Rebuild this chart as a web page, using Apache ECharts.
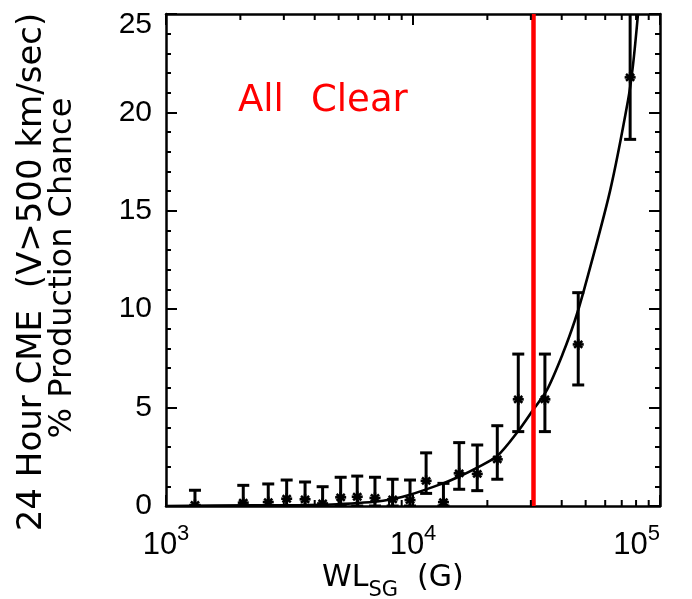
<!DOCTYPE html>
<html><head><meta charset="utf-8">
<script src="https://cdn.jsdelivr.net/npm/echarts@6/dist/echarts.min.js"></script>
<style>html,body{margin:0;padding:0;background:#fff}#c{width:692px;height:599px}</style>
</head><body><div id="c"></div>
<script>
// measured points (WL_SG in G, % chance) with error bar limits
const wl     = [1310, 2055, 2594, 3080, 3656, 4306, 5095, 5946, 7015, 8272, 9727, 11300, 13280, 15380, 18200, 21940, 26680, 34200, 46660, 75700];
const pct    = [0.05, 0.17, 0.20, 0.37, 0.34, 0.13, 0.44, 0.47, 0.41, 0.34, 0.30, 1.28, 0.20, 1.66, 1.63, 2.37, 5.42, 5.42, 8.21, 21.78];
const errHi  = [0.80, 1.05, 1.12, 1.32, 1.22, 0.98, 1.46, 1.52, 1.46, 1.36, 1.32, 2.70, 1.15, 3.22, 3.10, 4.08, 7.72, 7.72, 10.84, 25.5];
const errLo  = [0, 0, 0, 0, 0, 0, 0, 0, 0, 0, 0, 0.64, 0, 0.85, 0.78, 1.36, 3.78, 3.78, 6.15, 18.63];
// fitted curve
const fitWL  = [1000, 2190, 3490, 4920, 7570, 9640, 13220, 15400, 18200, 21950, 26620, 30610, 34870, 40490, 45290, 48800, 62750, 74210, 77740, 81460];
const fitPct = [0.0, 0.03, 0.05, 0.09, 0.27, 0.56, 1.15, 1.50, 1.95, 2.55, 3.80, 4.88, 5.9, 7.77, 9.45, 10.8, 16.0, 20.6, 22.4, 25.0];
const allClearWL = 30700;
const xMinorTicks = [2000,3000,4000,5000,6000,7000,8000,9000,20000,30000,40000,50000,60000,70000,80000,90000];
const yMin = 0, yMax = 25, yStep = 5;

const chart = echarts.init(document.getElementById('c'), null, {renderer: 'canvas'});
const numFont = 'Liberation Sans';
const axisStyle = {color: '#000', width: 2.5};
const mkX = (pos, showLabel) => ({
  type: 'log', logBase: 10, min: 1000, max: 100000, position: pos,
  axisLine: {show: true, onZero: false, lineStyle: axisStyle},
  axisTick: {show: true, inside: true, length: 11, lineStyle: {color: '#000', width: 2}},
  minorTick: {show: false},
  splitLine: {show: false},
  axisLabel: showLabel ? {
    margin: 17, color: '#000', alignMaxLabel: 'right',
    formatter: v => '{b|10}{s|' + Math.round(Math.log10(v)) + '}',
    rich: {
      b: {fontFamily: numFont, fontSize: 31, color: '#000', lineHeight: 38, verticalAlign: 'bottom'},
      s: {fontFamily: numFont, fontSize: 22, color: '#000', lineHeight: 38, verticalAlign: 'top'}
    }
  } : {show: false}
});
const mkY = (pos, showLabel) => ({
  type: 'value', min: yMin, max: yMax, interval: yStep, position: pos,
  axisLine: {show: true, onZero: false, lineStyle: axisStyle},
  axisTick: {show: true, inside: true, length: 11, lineStyle: {color: '#000', width: 2}},
  minorTick: {show: true, splitNumber: 5, length: 5, lineStyle: {color: '#000', width: 2}},
  splitLine: {show: false},
  axisLabel: showLabel ? {
    margin: 14, fontFamily: numFont, fontSize: 30, color: '#000',
    formatter: v => v === yMax ? '{t|' + v + '}' : String(v),
    rich: {t: {fontFamily: numFont, fontSize: 30, color: '#000', padding: [22, 0, 0, 0]}}
  } : {show: false}
});

const option = {
  animation: false,
  backgroundColor: '#fff',
  grid: {left: 166, right: 32, top: 14, bottom: 93, containLabel: false},
  xAxis: [mkX('bottom', true), mkX('top', false)],
  yAxis: [mkY('left', true), mkY('right', false)],
  series: [
    {
      type: 'line', xAxisIndex: 0, yAxisIndex: 0,
      data: fitWL.map((x, i) => [x, fitPct[i]]),
      showSymbol: false, smooth: 0.3, clip: true,
      lineStyle: {color: '#000', width: 2.6},
      markLine: {
        silent: true, symbol: 'none', animation: false,
        label: {show: false},
        lineStyle: {color: '#ff0000', width: 4.5, type: 'solid'},
        data: [{xAxis: allClearWL}]
      },
      z: 3
    },
    {
      type: 'custom', xAxisIndex: 0, yAxisIndex: 0, clip: true,
      data: wl.map((x, i) => [x, pct[i], errLo[i], errHi[i]]),
      renderItem: (params, api) => {
        const x = api.value(0), y = api.value(1), lo = api.value(2), hi = api.value(3);
        const pc = api.coord([x, y]), pt = api.coord([x, hi]), pb = api.coord([x, lo]);
        const st = {stroke: '#000', lineWidth: 3};
        const cw = 6, r = 5.5;
        const ch = [
          {type: 'line', shape: {x1: pc[0], y1: pt[1], x2: pc[0], y2: pb[1]}, style: st},
          {type: 'line', shape: {x1: pc[0] - cw, y1: pt[1], x2: pc[0] + cw, y2: pt[1]}, style: st},
          {type: 'line', shape: {x1: pc[0] - cw, y1: pb[1], x2: pc[0] + cw, y2: pb[1]}, style: st}
        ];
        const ast = [[0, -1], [1, 0], [0.75, -0.62], [0.75, 0.62]];
        ast.forEach(d => ch.push({type: 'line', shape: {x1: pc[0] - d[0] * r, y1: pc[1] - d[1] * r, x2: pc[0] + d[0] * r, y2: pc[1] + d[1] * r}, style: {stroke: '#000', lineWidth: 2.6}}));
        return {type: 'group', children: ch};
      },
      z: 4
    },
    {
      type: 'custom', xAxisIndex: 0, yAxisIndex: 0, clip: false,
      data: xMinorTicks.map(v => [v]),
      renderItem: (params, api) => {
        const v = api.value(0);
        const pb = api.coord([v, yMin]), pt = api.coord([v, yMax]);
        const st = {stroke: '#000', lineWidth: 2};
        return {type: 'group', children: [
          {type: 'line', shape: {x1: pb[0], y1: pb[1], x2: pb[0], y2: pb[1] - 6}, style: st},
          {type: 'line', shape: {x1: pt[0], y1: pt[1], x2: pt[0], y2: pt[1] + 6}, style: st}
        ]};
      },
      z: 5
    }
  ],
  graphic: [
    {type: 'text', left: 238, top: 83, style: {text: 'All', fontFamily: 'DejaVu Sans', fontSize: 37, fill: '#ff0000'}},
    {type: 'text', left: 311, top: 83, style: {text: 'Clear', fontFamily: 'DejaVu Sans', fontSize: 37, fill: '#ff0000'}},
    {type: 'text', x: 32, y: 272, rotation: Math.PI / 2,
      style: {text: '24 Hour CME  (V>500 km/sec)', fontFamily: 'DejaVu Sans', fontSize: 34, fill: '#000', align: 'center', verticalAlign: 'middle'}},
    {type: 'text', x: 63, y: 268, rotation: Math.PI / 2,
      style: {text: '% Production Chance', fontFamily: 'DejaVu Sans', fontSize: 32, fill: '#000', align: 'center', verticalAlign: 'middle'}},
    {type: 'text', x: 322, y: 582,
      style: {text: '{a|WL}{b|SG}{a|  (G)}', align: 'left', verticalAlign: 'middle',
        rich: {
          a: {fontFamily: 'DejaVu Sans', fontSize: 30, fill: '#000', lineHeight: 38, verticalAlign: 'top'},
          b: {fontFamily: 'DejaVu Sans', fontSize: 21, fill: '#000', lineHeight: 38, verticalAlign: 'bottom'}
        }}}
  ]
};
chart.setOption(option);
</script>
</body></html>
